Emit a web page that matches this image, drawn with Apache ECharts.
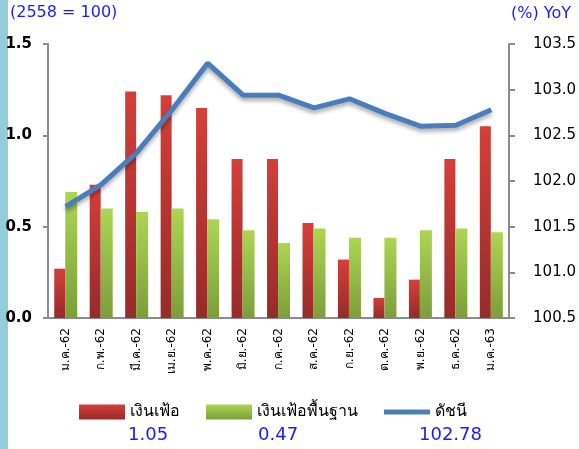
<!DOCTYPE html>
<html>
<head>
<meta charset="utf-8">
<script src="https://cdn.jsdelivr.net/npm/echarts@6/dist/echarts.min.js"></script>
<style>
  html, body { margin: 0; padding: 0; background: #fff; }
  #chart { width: 579px; height: 449px; }
</style>
</head>
<body>
<div id="chart"></div>
<script>
// months (Thai short form)
var months = ["ม.ค.-62", "ก.พ.-62", "มี.ค.-62", "เม.ย.-62", "พ.ค.-62", "มิ.ย.-62", "ก.ค.-62",
  "ส.ค.-62", "ก.ย.-62", "ต.ค.-62", "พ.ย.-62", "ธ.ค.-62", "ม.ค.-63"];
var headline = [0.27, 0.73, 1.24, 1.22, 1.15, 0.87, 0.87, 0.52, 0.32, 0.11, 0.21, 0.87, 1.05];
var core = [0.69, 0.60, 0.58, 0.60, 0.54, 0.48, 0.41, 0.49, 0.44, 0.44, 0.48, 0.49, 0.47];
var cpi = [101.72, 101.96, 102.31, 102.78, 103.29, 102.94, 102.94, 102.80, 102.90, 102.74, 102.60, 102.61, 102.78];
var seriesNames = ["เงินเฟ้อ", "เงินเฟ้อพื้นฐาน", "ดัชนี"];
var latest = ["1.05", "0.47", "102.78"];

var font = "Tahoma, 'DejaVu Sans', sans-serif";
var chart = echarts.init(document.getElementById("chart"));

function grad(top, bottom) {
  return new echarts.graphic.LinearGradient(0, 0, 0, 1, [
    { offset: 0, color: top },
    { offset: 1, color: bottom }
  ]);
}

chart.setOption({
  animation: false,
  textStyle: { fontFamily: font },
  grid: { left: 48, right: 61, top: 44, bottom: 131 },
  legend: {
    left: 74,
    top: 399,
    itemWidth: 46,
    itemHeight: 15,
    itemGap: 26,
    symbolKeepAspect: true,
    textStyle: { fontSize: 16, color: "#000", fontFamily: font },
    data: [
      { name: seriesNames[0], icon: "rect" },
      { name: seriesNames[1], icon: "rect" },
      { name: seriesNames[2], icon: "path://M0,0h46v5h-46z", itemStyle: { color: "#4a7ebb" } }
    ]
  },
  graphic: [
    { type: "rect", left: 0, top: 0, shape: { width: 8, height: 449 }, style: { fill: "#92cddc" } },
    { type: "text", left: 10, top: 5, style: { text: "(2558 = 100)", fill: "#1a1aff", font: "16px " + font } },
    { type: "text", left: 511, top: 6, style: { text: "(%) YoY", fill: "#1a1aff", font: "16px " + font } },
    { type: "text", left: 128, top: 426, style: { text: latest[0], fill: "#1a1aff", font: "18px " + font } },
    { type: "text", left: 258, top: 426, style: { text: latest[1], fill: "#1a1aff", font: "18px " + font } },
    { type: "text", left: 419, top: 426, style: { text: latest[2], fill: "#1a1aff", font: "18px " + font } }
  ],
  xAxis: {
    type: "category",
    data: months,
    axisLine: { lineStyle: { color: "#8c8c8c", width: 2 } },
    axisTick: { lineStyle: { color: "#8c8c8c", width: 2 }, length: 5 },
    axisLabel: { rotate: 90, fontSize: 12, color: "#000", margin: 10, interval: 0 }
  },
  yAxis: [
    {
      type: "value",
      min: 0,
      max: 1.5,
      interval: 0.5,
      position: "left",
      splitLine: { show: false },
      axisLine: { show: true, lineStyle: { color: "#8c8c8c", width: 2 } },
      axisTick: { show: true, length: 5, lineStyle: { color: "#8c8c8c", width: 2 } },
      axisLabel: {
        fontSize: 15, fontWeight: "bold", color: "#000", margin: 16,
        formatter: function (v) { return v.toFixed(1); }
      }
    },
    {
      type: "value",
      min: 100.5,
      max: 103.5,
      interval: 0.5,
      position: "right",
      splitLine: { show: false },
      axisLine: { show: true, lineStyle: { color: "#8c8c8c", width: 2 } },
      axisTick: { show: true, length: 6, lineStyle: { color: "#8c8c8c", width: 2 } },
      axisLabel: {
        fontSize: 15, color: "#000", margin: 24,
        formatter: function (v) { return v.toFixed(1); }
      }
    }
  ],
  series: [
    {
      name: seriesNames[0],
      type: "bar",
      data: headline,
      barWidth: 11,
      barGap: "0%",
      itemStyle: { color: grad("#d43f3a", "#962b28") }
    },
    {
      name: seriesNames[1],
      type: "bar",
      data: core,
      barWidth: 12,
      itemStyle: { color: grad("#acd653", "#7c9e3a") }
    },
    {
      name: seriesNames[2],
      type: "line",
      yAxisIndex: 1,
      data: cpi,
      symbol: "none",
      lineStyle: {
        color: "#4a7ebb",
        width: 5,
        shadowColor: "rgba(0,0,0,0.35)",
        shadowBlur: 4,
        shadowOffsetY: 3
      },
      itemStyle: { color: "#4a7ebb" }
    }
  ]
});
</script>
</body>
</html>
